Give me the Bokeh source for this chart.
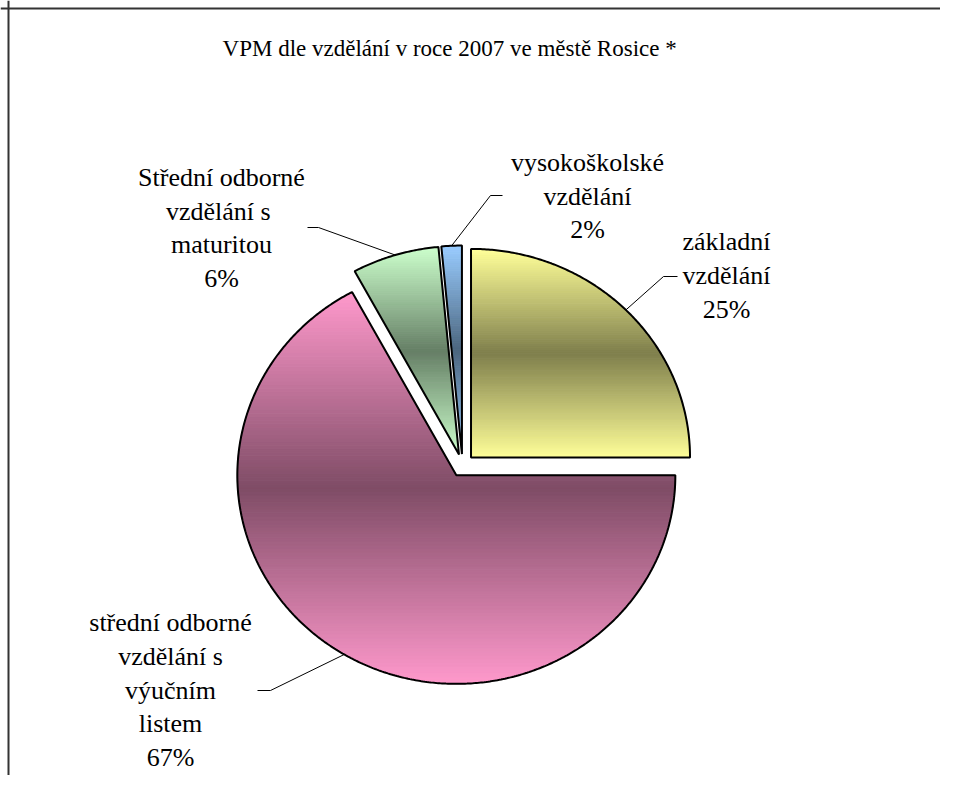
import numpy as np
from bokeh.plotting import figure
from bokeh.models import ColumnDataSource, Span
from bokeh.embed import file_html
from bokeh.resources import INLINE
from bokeh.core.properties import value

# ---------------- data ----------------
title_text = "VPM  dle vzdělání v roce 2007 ve městě Rosice *"
categories = [
    "základní\nvzdělání",
    "střední odborné\nvzdělání s\nvýučním\nlistem",
    "Střední odborné\nvzdělání  s\nmaturitou",
    "vysokoškolské\nvzdělání",
]
percent = [25.0, 67.1, 6.4, 1.5]
light_colors = ["#FFFF99", "#FF99CC", "#CCFFCC", "#99CCFF"]
dark_colors = ["#7F7F4C", "#7F4C66", "#667F66", "#4C667F"]

# ---------------- layout (page pixels) ----------------
W, H = 940, 775
OFF = 0                    # canvas origin on the page
CX, CY = 462.0, 465.0      # pie centre on page
RX, RY = 219.0, 208.5      # pie radii in pixels
EXPLODE = 0.055            # explosion as fraction of radius
label_pos = [(726, 275), (170, 689.5), (221, 227.5), (587, 195.5)]
leader_knee = [(663, 276), (270, 690), (318, 227), (490, 195)]
leader_end = [(677, 276), (257, 690), (307, 227), (502, 195)]
LINE_STEP = 33.7
title_pos = (452, 48)
FONT = "Liberation Serif"
LABEL_FONT = "'Liberation Serif', serif"


def px2x(px):
    return (px - CX) / RX


def py2y(py):
    return (CY - py) / RY


x_start, x_end = px2x(OFF), px2x(OFF + W)
y_end, y_start = py2y(OFF), py2y(OFF + H)


def mix(c1, c2, f):
    a = [int(c1[i:i + 2], 16) for i in (1, 3, 5)]
    b = [int(c2[i:i + 2], 16) for i in (1, 3, 5)]
    m = [round(a[k] * (1 - f) + b[k] * f) for k in range(3)]
    return "#%02x%02x%02x" % tuple(m)


def clip_half(pts, keep, yv):
    out = []
    n = len(pts)
    for i in range(n):
        cur, prev = pts[i], pts[i - 1]
        cin, pin = keep(cur), keep(prev)
        if cin != pin:
            t = (yv - prev[1]) / (cur[1] - prev[1])
            out.append((prev[0] + t * (cur[0] - prev[0]), yv))
        if cin:
            out.append(cur)
    return out


def clip_band(poly, lo, hi):
    pts = clip_half(poly, lambda p: p[1] >= lo, lo)
    if len(pts) < 3:
        return []
    pts = clip_half(pts, lambda p: p[1] <= hi, hi)
    return pts if len(pts) >= 3 else []


# ---------------- geometry from data ----------------
total = sum(percent)
start = np.pi / 2
slice_polys, anchors = [], []
for v in percent:
    sweep = 2 * np.pi * v / total
    end = start - sweep
    mid = (start + end) / 2
    ex, ey = EXPLODE * np.cos(mid), EXPLODE * np.sin(mid)
    th = np.linspace(start, end, max(int(np.degrees(sweep) * 2), 8))
    poly = [(ex, ey)] + [(ex + np.cos(t), ey + np.sin(t)) for t in th]
    slice_polys.append(poly)
    anchors.append((ex + np.cos(mid), ey + np.sin(mid)))
    start = end

# vertical light-dark-light gradient, built from thin horizontal bands
band_xs, band_ys, band_col = [], [], []
NB = 110
for poly, lc, dc in zip(slice_polys, light_colors, dark_colors):
    ys = [p[1] for p in poly]
    lo, hi = min(ys), max(ys)
    step = (hi - lo) / NB
    for k in range(NB):
        b0 = lo + k * step
        b1 = b0 + step
        pts = clip_band(poly, b0, b1)
        if not pts:
            continue
        t = (k + 0.5) / NB
        f = 1 - abs(2 * t - 1)
        band_xs.append([p[0] for p in pts])
        band_ys.append([p[1] for p in pts])
        band_col.append(mix(lc, dc, f))

p = figure(width=W, height=H, x_range=(x_start, x_end), y_range=(y_start, y_end),
           output_backend="svg", toolbar_location=None, min_border=0)
p.axis.visible = False
p.grid.visible = False
p.outline_line_color = None
p.background_fill_color = "white"
p.border_fill_color = "white"

p.text([px2x(title_pos[0])], [py2y(title_pos[1])], text=[title_text],
       text_font=value(FONT), text_font_size="23px", text_align="center",
       text_baseline="middle", text_color="black")

p.patches("xs", "ys", source=ColumnDataSource(dict(xs=band_xs, ys=band_ys, c=band_col)),
          fill_color="c", line_color="c", line_width=1)
p.patches([[q[0] for q in poly] for poly in slice_polys],
          [[q[1] for q in poly] for poly in slice_polys],
          fill_color=None, line_color="black", line_width=2)

# leader lines
lx, ly = [], []
for a, kn, en in zip(anchors, leader_knee, leader_end):
    lx.append([a[0], px2x(kn[0]), px2x(en[0])])
    ly.append([a[1], py2y(kn[1]), py2y(en[1])])
p.multi_line(lx, ly, line_color="black", line_width=1)

# data labels (one text item per line)
tx, ty, tt = [], [], []
for c, v, pos in zip(categories, percent, label_pos):
    lines = c.split("\n") + [f"{v:.0f}%"]
    n = len(lines)
    for i, line in enumerate(lines):
        tx.append(px2x(pos[0]))
        ty.append(py2y(pos[1] + (i - (n - 1) / 2) * LINE_STEP))
        tt.append(line)
p.text(x=tx, y=ty, text=tt, text_font=value(LABEL_FONT), text_font_size="26px",
       text_align="center", text_baseline="middle", text_color="black")

# frame border (left and top visible in the reference)
p.add_layout(Span(location=px2x(8), dimension="height", line_color="#333333", line_width=2))
p.add_layout(Span(location=py2y(8), dimension="width", line_color="#333333", line_width=2))

open("out.html", "w").write(file_html(p, INLINE))
